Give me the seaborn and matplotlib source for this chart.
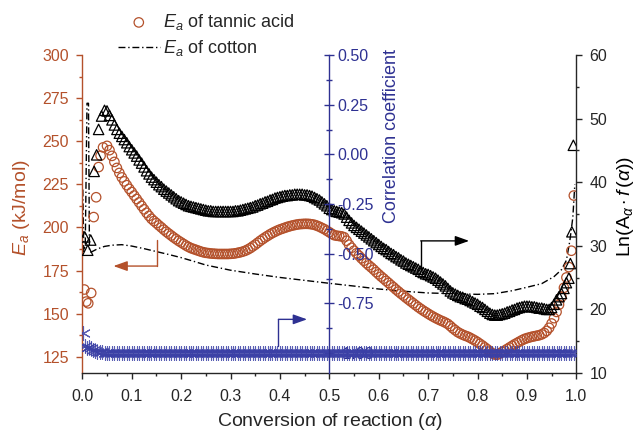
import matplotlib
matplotlib.use("Agg")
import matplotlib.pyplot as plt
from matplotlib.ticker import MultipleLocator, FormatStrFormatter
import seaborn as sns

ORANGE = "#B4512B"
NAVY = "#2E3192"
STAR = "#3B40A6"

# conversion grid shared by the three marker series (0.050 .. 0.980)
alpha_grid = [
    0.050, 0.055, 0.060, 0.065, 0.070, 0.075, 0.080, 0.085, 0.090, 0.095,
    0.100, 0.105, 0.110, 0.115, 0.120, 0.125, 0.130, 0.135, 0.140, 0.145,
    0.150, 0.155, 0.160, 0.165, 0.170, 0.175, 0.180, 0.185, 0.190, 0.195,
    0.200, 0.205, 0.210, 0.215, 0.220, 0.225, 0.230, 0.235, 0.240, 0.245,
    0.250, 0.255, 0.260, 0.265, 0.270, 0.275, 0.280, 0.285, 0.290, 0.295,
    0.300, 0.305, 0.310, 0.315, 0.320, 0.325, 0.330, 0.335, 0.340, 0.345,
    0.350, 0.355, 0.360, 0.365, 0.370, 0.375, 0.380, 0.385, 0.390, 0.395,
    0.400, 0.405, 0.410, 0.415, 0.420, 0.425, 0.430, 0.435, 0.440, 0.445,
    0.450, 0.455, 0.460, 0.465, 0.470, 0.475, 0.480, 0.485, 0.490, 0.495,
    0.500, 0.505, 0.510, 0.515, 0.520, 0.525, 0.530, 0.535, 0.540, 0.545,
    0.550, 0.555, 0.560, 0.565, 0.570, 0.575, 0.580, 0.585, 0.590, 0.595,
    0.600, 0.605, 0.610, 0.615, 0.620, 0.625, 0.630, 0.635, 0.640, 0.645,
    0.650, 0.655, 0.660, 0.665, 0.670, 0.675, 0.680, 0.685, 0.690, 0.695,
    0.700, 0.705, 0.710, 0.715, 0.720, 0.725, 0.730, 0.735, 0.740, 0.745,
    0.750, 0.755, 0.760, 0.765, 0.770, 0.775, 0.780, 0.785, 0.790, 0.795,
    0.800, 0.805, 0.810, 0.815, 0.820, 0.825, 0.830, 0.835, 0.840, 0.845,
    0.850, 0.855, 0.860, 0.865, 0.870, 0.875, 0.880, 0.885, 0.890, 0.895,
    0.900, 0.905, 0.910, 0.915, 0.920, 0.925, 0.930, 0.935, 0.940, 0.945,
    0.950, 0.955, 0.960, 0.965, 0.970, 0.975, 0.980,
]

# Ea of tannic acid (kJ/mol)
ta_alpha_start = [0.004, 0.008, 0.012, 0.018, 0.023, 0.028, 0.033, 0.037, 0.042]
ta_ea_start = [164.0, 157.0, 156.0, 162.0, 206.0, 217.5, 235.0, 241.6, 246.4]
ta_ea_grid = [
    247.3, 244.8, 241.5, 238.0, 234.5, 231.6, 229.0, 226.7, 224.5, 222.4,
    220.5, 218.5, 216.5, 214.5, 212.5, 210.5, 208.5, 206.7, 205.0, 203.7,
    202.5, 201.2, 200.0, 198.7, 197.5, 196.4, 195.3, 194.2, 193.2, 192.2,
    191.3, 190.4, 189.5, 188.7, 188.0, 187.5, 187.0, 186.5, 186.0, 185.6,
    185.3, 185.1, 184.9, 184.8, 184.7, 184.6, 184.6, 184.6, 184.6, 184.6,
    184.7, 184.8, 185.0, 185.3, 185.6, 186.0, 186.5, 187.2, 188.0, 189.0,
    190.0, 191.1, 192.2, 193.2, 194.2, 195.1, 196.0, 196.8, 197.5, 198.2,
    198.8, 199.3, 199.8, 200.3, 200.7, 201.1, 201.4, 201.7, 201.9, 202.0,
    202.1, 202.1, 202.0, 201.8, 201.5, 201.0, 200.4, 199.7, 199.0, 198.1,
    197.2, 196.3, 195.5, 195.2, 195.0, 194.8, 194.3, 192.3, 190.0, 188.2,
    186.5, 185.0, 183.6, 182.1, 180.7, 179.3, 178.0, 176.8, 175.5, 174.1,
    172.8, 171.5, 170.3, 169.0, 167.8, 166.5, 165.3, 164.0, 162.8, 161.6,
    160.5, 159.3, 158.2, 157.1, 156.0, 154.9, 153.8, 152.8, 151.8, 150.9,
    150.0, 149.1, 148.3, 147.5, 146.8, 146.1, 145.5, 144.8, 144.0, 142.8,
    141.5, 140.4, 139.3, 138.5, 137.8, 137.2, 136.7, 136.0, 135.2, 134.4,
    133.5, 132.5, 131.5, 130.4, 129.3, 128.1, 127.0, 126.3, 126.2, 126.9,
    127.8, 128.6, 129.5, 130.4, 131.3, 132.2, 133.0, 133.8, 134.6, 135.3,
    135.8, 136.2, 136.6, 136.9, 137.2, 137.5, 138.0, 138.8, 140.0, 141.8,
    144.3, 147.4, 151.0, 155.2, 159.7, 165.0, 171.0,
]
ta_alpha_end = [0.985, 0.990, 0.995]
ta_ea_end = [177.0, 186.5, 218.5]

# Ln(A_alpha * f(alpha))
ln_alpha_start = [0.005, 0.011, 0.017, 0.024, 0.029, 0.033, 0.039, 0.045]
ln_start = [31.4, 29.3, 30.9, 41.7, 44.3, 48.3, 50.4, 51.3]
ln_grid = [
    51.2, 50.5, 49.8, 49.0, 48.3, 47.7, 47.2, 46.7, 46.2, 45.6,
    45.1, 44.6, 44.1, 43.5, 43.0, 42.4, 41.8, 41.3, 40.8, 40.4,
    40.0, 39.6, 39.3, 38.9, 38.6, 38.3, 38.0, 37.7, 37.4, 37.1,
    36.9, 36.7, 36.5, 36.3, 36.2, 36.1, 36.0, 35.9, 35.8, 35.7,
    35.6, 35.5, 35.5, 35.4, 35.4, 35.4, 35.4, 35.4, 35.4, 35.4,
    35.4, 35.4, 35.5, 35.5, 35.6, 35.7, 35.8, 35.9, 36.0, 36.1,
    36.3, 36.4, 36.6, 36.7, 36.9, 37.0, 37.2, 37.3, 37.5, 37.6,
    37.7, 37.8, 37.9, 37.9, 38.0, 38.0, 38.1, 38.1, 38.1, 38.1,
    38.0, 38.0, 37.9, 37.8, 37.6, 37.4, 37.2, 36.9, 36.6, 36.3,
    35.9, 35.7, 35.5, 35.4, 35.3, 35.2, 35.0, 34.5, 34.0, 33.6,
    33.2, 32.9, 32.6, 32.3, 32.0, 31.7, 31.4, 31.1, 30.8, 30.5,
    30.2, 29.9, 29.6, 29.4, 29.1, 28.8, 28.6, 28.3, 28.1, 27.8,
    27.6, 27.3, 27.1, 26.9, 26.7, 26.5, 26.3, 26.0, 25.8, 25.6,
    25.5, 25.3, 25.1, 24.9, 24.6, 24.3, 24.0, 23.7, 23.3, 22.9,
    22.6, 22.4, 22.2, 22.0, 21.9, 21.7, 21.6, 21.4, 21.2, 21.0,
    20.8, 20.5, 20.3, 20.0, 19.7, 19.4, 19.2, 19.1, 19.1, 19.2,
    19.3, 19.4, 19.6, 19.7, 19.9, 20.0, 20.2, 20.3, 20.4, 20.5,
    20.5, 20.5, 20.4, 20.4, 20.3, 20.2, 20.2, 20.1, 20.0, 20.0,
    20.3, 20.8, 21.5, 22.0, 22.5, 23.3, 24.2,
]
ln_alpha_end = [0.985, 0.988, 0.991, 0.994]
ln_end = [24.9, 27.2, 32.2, 45.8]

# correlation coefficient
r_alpha_start = [0.002, 0.006, 0.010, 0.014, 0.018, 0.022, 0.026, 0.030, 0.035, 0.040, 0.045]
r_start = [-0.900, -0.965, -0.972, -0.968, -0.975, -0.982, -0.988, -0.992, -0.995, -0.996, -0.997]
r_grid = [
    -0.997, -0.997, -0.997, -0.998, -0.998, -0.998, -0.998, -0.998, -0.998, -0.998,
    -0.998, -0.998, -0.998, -0.998, -0.998, -0.998, -0.998, -0.998, -0.998, -0.998,
    -0.998, -0.998, -0.998, -0.998, -0.998, -0.998, -0.998, -0.998, -0.998, -0.998,
    -0.998, -0.998, -0.998, -0.998, -0.998, -0.998, -0.998, -0.998, -0.998, -0.998,
    -0.998, -0.998, -0.998, -0.998, -0.998, -0.998, -0.998, -0.998, -0.998, -0.998,
    -0.998, -0.998, -0.998, -0.998, -0.998, -0.998, -0.998, -0.998, -0.998, -0.998,
    -0.998, -0.998, -0.998, -0.998, -0.998, -0.998, -0.998, -0.998, -0.998, -0.998,
    -0.998, -0.998, -0.998, -0.998, -0.998, -0.998, -0.998, -0.998, -0.998, -0.998,
    -0.998, -0.998, -0.998, -0.998, -0.998, -0.998, -0.998, -0.998, -0.998, -0.998,
    -0.998, -0.998, -0.998, -0.998, -0.998, -0.998, -0.998, -0.998, -0.998, -0.998,
    -0.998, -0.998, -0.998, -0.998, -0.998, -0.998, -0.998, -0.998, -0.998, -0.998,
    -0.998, -0.998, -0.998, -0.998, -0.998, -0.998, -0.998, -0.998, -0.998, -0.998,
    -0.998, -0.998, -0.998, -0.998, -0.998, -0.998, -0.998, -0.998, -0.998, -0.998,
    -0.998, -0.998, -0.998, -0.998, -0.998, -0.998, -0.998, -0.998, -0.998, -0.998,
    -0.998, -0.998, -0.998, -0.998, -0.998, -0.998, -0.998, -0.998, -0.998, -0.998,
    -0.998, -0.998, -0.998, -0.998, -0.998, -0.998, -0.998, -0.998, -0.998, -0.998,
    -0.998, -0.998, -0.998, -0.998, -0.998, -0.998, -0.998, -0.998, -0.998, -0.998,
    -0.998, -0.998, -0.998, -0.998, -0.998, -0.998, -0.998, -0.998, -0.998, -0.998,
    -0.998, -0.998, -0.998, -0.998, -0.998, -0.998, -0.998,
]
r_alpha_end = [0.985, 0.990, 0.995]
r_end = [-0.998, -0.998, -0.998]

# Ea of cotton (kJ/mol), dash-dot line
cot_alpha = [0.001, 0.003, 0.006, 0.0095, 0.0125, 0.0145, 0.018, 0.030, 0.045, 0.060,
             0.080, 0.100, 0.125, 0.150, 0.175, 0.200, 0.225, 0.250, 0.300, 0.350,
             0.400, 0.450, 0.500, 0.550, 0.600, 0.650, 0.700, 0.750, 0.800, 0.835,
             0.870, 0.900, 0.930, 0.955, 0.970, 0.980, 0.987, 0.993, 0.997]
cot_ea = [222.0, 186.0, 190.0, 272.0, 272.0, 186.0, 185.7, 187.5, 189.0, 189.7,
          190.0, 189.2, 187.7, 186.0, 184.3, 182.5, 180.4, 178.2, 175.2, 173.0,
          171.0, 169.3, 167.6, 166.0, 164.3, 163.0, 162.0, 161.6, 161.2, 161.6,
          163.3, 165.3, 167.4, 171.5, 175.5, 181.0, 192.4, 205.9, 225.0]

sns.set_style("ticks")
plt.rcParams["font.family"] = ["Liberation Sans", "DejaVu Sans"]
plt.rcParams["mathtext.fontset"] = "custom"
plt.rcParams["mathtext.rm"] = "Liberation Sans"
plt.rcParams["mathtext.it"] = "Liberation Sans:italic"
plt.rcParams["axes.unicode_minus"] = False

fig = plt.figure(figsize=(6.38, 4.34), dpi=100)
ax = fig.add_axes([0.129, 0.1406, 0.7743, 0.7327])
ax_r = ax.twinx()
ax_b = ax.twinx()

sns.lineplot(x=cot_alpha, y=cot_ea, ax=ax, color="black", linewidth=1.0,
             linestyle=(0, (5, 2, 1, 2)), estimator=None, sort=False,
             label=r"$E_a$ of cotton")
sns.scatterplot(x=ta_alpha_start + alpha_grid + ta_alpha_end,
                y=ta_ea_start + ta_ea_grid + ta_ea_end, ax=ax, marker="o", s=46,
                facecolor="none", edgecolor=ORANGE, linewidth=0.9,
                label=r"$E_a$ of tannic acid", zorder=3)
sns.scatterplot(x=ln_alpha_start + alpha_grid + ln_alpha_end,
                y=ln_start + ln_grid + ln_end, ax=ax_r, marker="^", s=56,
                facecolor="none", edgecolor="black", linewidth=0.9)
sns.scatterplot(x=r_alpha_start + alpha_grid + r_alpha_end,
                y=r_start + r_grid + r_end, ax=ax_b, marker=(6, 2, 0), s=100,
                color=STAR, linewidth=0.8, alpha=0.85)

handles, labels = ax.get_legend_handles_labels()
if ax.get_legend() is not None:
    ax.get_legend().remove()
for a in (ax_r, ax_b):
    if a.get_legend() is not None:
        a.get_legend().remove()

order = [labels.index(r"$E_a$ of tannic acid"), labels.index(r"$E_a$ of cotton")]
fig.legend([handles[i] for i in order], [labels[i] for i in order],
           loc="upper left", bbox_to_anchor=(0.185, 0.972), frameon=False,
           fontsize=13, handlelength=2.3, handletextpad=0.2, labelspacing=0.35,
           borderpad=0, borderaxespad=0, scatterpoints=1)

ax.set_xlim(0, 1)
ax.set_ylim(115.6, 300)
ax_r.set_ylim(10, 60)
ax_b.set_ylim(-1.1, 0.5)

# spines
ax.spines["top"].set_visible(False)
ax.spines["right"].set_visible(False)
ax.spines["left"].set_color(ORANGE)
for a in (ax_r, ax_b):
    for s in ("top", "left", "bottom"):
        a.spines[s].set_visible(False)
ax_b.spines["right"].set_position(("axes", 0.5))
ax_b.spines["right"].set_color(NAVY)
for sp in (ax.spines["left"], ax.spines["bottom"], ax_r.spines["right"], ax_b.spines["right"]):
    sp.set_linewidth(1.0)

# ticks
ax.xaxis.set_major_locator(MultipleLocator(0.1))
ax.xaxis.set_minor_locator(MultipleLocator(0.05))
ax.xaxis.set_major_formatter(FormatStrFormatter("%.1f"))
ax.tick_params(axis="x", which="major", direction="out", length=4.5, width=1, pad=7, labelsize=11.5)
ax.tick_params(axis="x", which="minor", direction="out", length=2.5, width=1)

ax.yaxis.set_major_locator(MultipleLocator(25))
ax.yaxis.set_minor_locator(MultipleLocator(12.5))
ax.tick_params(axis="y", which="major", direction="out", length=4.5, width=1, pad=5,
               labelsize=11.5, color=ORANGE, labelcolor=ORANGE)
ax.tick_params(axis="y", which="minor", direction="out", length=2.5, width=1, color=ORANGE)

ax_r.yaxis.set_major_locator(MultipleLocator(10))
ax_r.yaxis.set_minor_locator(MultipleLocator(5))
ax_r.tick_params(axis="y", which="major", direction="out", length=4.5, width=1, pad=5, labelsize=11.5)
ax_r.tick_params(axis="y", which="minor", direction="out", length=2.5, width=1)

ax_b.yaxis.set_major_locator(MultipleLocator(0.25))
ax_b.yaxis.set_minor_locator(MultipleLocator(0.125))
ax_b.yaxis.set_major_formatter(FormatStrFormatter("%.2f"))
ax_b.tick_params(axis="y", which="major", direction="inout", length=7, width=1, pad=2,
                 labelsize=11.5, color=NAVY, labelcolor=NAVY)
ax_b.tick_params(axis="y", which="minor", direction="inout", length=4.5, width=1, color=NAVY)

# axis titles
ax.set_xlabel(r"Conversion of reaction ($\alpha$)", fontsize=14, labelpad=5)
ax.set_ylabel("")
ax_r.set_ylabel("")
ax_b.set_ylabel("")
ax.text(-0.124, 0.519, r"$E_a$ (kJ/mol)", transform=ax.transAxes, rotation=90,
        ha="center", va="center", fontsize=14, color=ORANGE)
ax.text(0.625, 0.745, "Correlation coefficient", transform=ax.transAxes, rotation=90,
        ha="center", va="center", fontsize=13, color=NAVY)
ax.text(1.099, 0.525, r"Ln(A$_{\alpha}\cdot f\,(\alpha)$)", transform=ax.transAxes,
        rotation=90, ha="center", va="center", fontsize=14, color="black")

# elbow arrows pointing to the matching axis
arrow_kw = dict(arrowstyle="-|>,head_length=0.7,head_width=0.25", lw=1, mutation_scale=12,
                shrinkA=0, shrinkB=0)
ax.plot([0.152, 0.152], [192.7, 177.6], color=ORANGE, lw=1)
ax.annotate("", xy=(0.063, 177.6), xytext=(0.152, 177.6),
            arrowprops=dict(color=ORANGE, **arrow_kw))
ax.plot([0.397, 0.397], [131.0, 146.7], color=NAVY, lw=1)
ax.annotate("", xy=(0.455, 146.7), xytext=(0.397, 146.7),
            arrowprops=dict(color=NAVY, **arrow_kw))
ax.plot([0.685, 0.685], [175.1, 192.2], color="black", lw=1)
ax.annotate("", xy=(0.783, 192.2), xytext=(0.685, 192.2),
            arrowprops=dict(color="black", **arrow_kw))

fig.savefig("out.png", dpi=100)
